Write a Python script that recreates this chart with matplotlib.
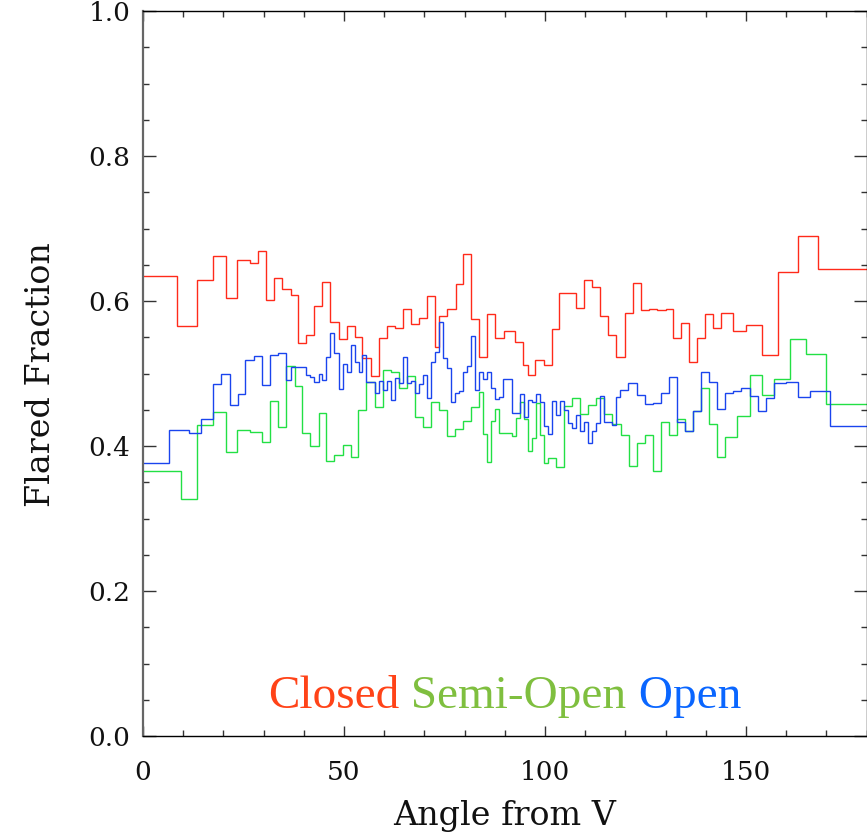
import matplotlib
matplotlib.use("Agg")
import matplotlib.pyplot as plt
from matplotlib.ticker import MultipleLocator

# bin edges (deg) and flared fraction for each field type
closed_edges = [0, 8.5, 13.5, 17.5, 20.6, 23.5, 26.6, 28.5, 30.5, 32.6, 34.7, 36.7, 38.6, 40.6,
                42.6, 44.6, 46.6, 48.7, 50.7, 52.7, 54.6, 56.6, 58.6, 60.6, 62.7, 64.7, 66.6,
                68.7, 70.7, 72.7, 73.7, 75.7, 77.8, 79.7, 81.6, 83.6, 85.6, 87.6, 89.7, 92.6,
                94.6, 95.7, 97.6, 99.7, 101.7, 103.6, 107.7, 109.6, 111.6, 113.6, 115.7, 117.7,
                119.8, 121.8, 123.9, 125.9, 127.9, 130.0, 131.9, 133.9, 135.9, 137.9, 139.9,
                141.9, 143.9, 146.9, 149.9, 153.9, 157.9, 163.0, 168.0, 180]
closed_vals = [0.635, 0.565, 0.629, 0.6625, 0.604, 0.656, 0.652, 0.669, 0.602, 0.632, 0.616,
               0.608, 0.542, 0.553, 0.593, 0.626, 0.571, 0.547, 0.566, 0.550, 0.521, 0.497,
               0.549, 0.566, 0.563, 0.5885, 0.568, 0.576, 0.607, 0.536, 0.580, 0.5885, 0.623,
               0.665, 0.575, 0.523, 0.582, 0.549, 0.559, 0.544, 0.512, 0.4975, 0.519, 0.512,
               0.561, 0.611, 0.590, 0.629, 0.619, 0.580, 0.553, 0.523, 0.584, 0.625, 0.587,
               0.589, 0.588, 0.589, 0.549, 0.570, 0.516, 0.549, 0.582, 0.563, 0.584, 0.558,
               0.567, 0.525, 0.640, 0.689, 0.644]

semi_edges = [0, 9.5, 13.5, 17.5, 20.6, 23.5, 26.6, 29.6, 31.6, 33.6, 35.7, 37.7, 39.6, 41.6,
              43.7, 45.6, 47.6, 49.7, 51.7, 53.6, 55.6, 57.7, 59.7, 61.7, 63.7, 65.7, 67.7,
              69.7, 71.7, 73.6, 75.6, 77.6, 79.6, 81.6, 83.6, 84.6, 85.6, 86.6, 87.6, 88.6,
              91.8, 92.8, 93.8, 94.8, 95.8, 96.8, 97.8, 98.8, 99.8, 100.8, 102.8, 104.8, 106.8,
              108.8, 110.8, 112.8, 114.8, 116.8, 118.8, 120.8, 122.8, 124.9, 126.8, 128.9,
              130.9, 132.9, 134.9, 136.9, 138.9, 140.9, 142.9, 144.9, 147.9, 150.9, 153.9,
              156.9, 161.0, 164.9, 170.0, 180]
semi_vals = [0.366, 0.3265, 0.4294, 0.447, 0.392, 0.422, 0.420, 0.4055, 0.462, 0.4258, 0.511,
             0.483, 0.4184, 0.3996, 0.446, 0.379, 0.388, 0.402, 0.385, 0.449, 0.4887, 0.4536,
             0.5048, 0.5025, 0.4795, 0.4965, 0.4395, 0.4267, 0.4612, 0.4497, 0.4133, 0.4234,
             0.4349, 0.4533, 0.474, 0.4166, 0.3775, 0.4345, 0.4506, 0.4175, 0.4142, 0.4382,
             0.4602, 0.4372, 0.3935, 0.4106, 0.46, 0.4145, 0.377, 0.3839, 0.3706, 0.455,
             0.4667, 0.4437, 0.456, 0.4658, 0.4437, 0.4303, 0.4147, 0.3724, 0.4046, 0.4147,
             0.3655, 0.4331, 0.4147, 0.4368, 0.4211, 0.4487, 0.4805, 0.430, 0.3848, 0.4129,
             0.4414, 0.498, 0.470, 0.4924, 0.547, 0.5264, 0.4575]

open_edges = [0, 6.55, 11.5, 14.5, 17.5, 19.5, 21.6, 23.6, 25.5, 27.6, 29.6, 31.6, 33.6, 35.7,
              36.7, 40.6, 41.6, 42.6, 43.7, 44.6, 45.6, 46.6, 47.6, 48.7, 49.7, 50.7, 51.7,
              52.7, 53.7, 54.6, 55.6, 57.7, 58.7, 59.7, 60.7, 61.7, 62.7, 63.7, 64.7, 65.7,
              66.7, 67.7, 68.7, 69.7, 70.7, 71.7, 72.7, 73.6, 74.6, 75.6, 76.6, 77.6, 78.6,
              79.6, 80.6, 81.6, 82.6, 83.6, 84.6, 85.6, 86.6, 87.6, 88.6, 89.6, 91.8, 93.8,
              94.8, 95.8, 96.8, 97.8, 98.8, 99.8, 100.8, 101.8, 102.8, 103.7, 104.7, 105.7,
              106.7, 107.7, 108.7, 109.7, 110.7, 111.7, 112.7, 113.7, 114.7, 116.7, 117.7,
              118.7, 120.7, 122.8, 124.9, 126.9, 128.8, 130.9, 132.9, 134.9, 136.9, 138.9,
              140.9, 142.9, 144.9, 146.9, 148.9, 150.9, 152.9, 154.9, 156.9, 160.0, 163.0,
              166.0, 171.0, 180]
open_vals = [0.376, 0.4216, 0.4175, 0.4368, 0.4855, 0.4993, 0.457, 0.4713, 0.5186, 0.524,
             0.4837, 0.525, 0.528, 0.491, 0.5094, 0.4975, 0.4956, 0.4887, 0.4993, 0.4906,
             0.5232, 0.5554, 0.5278, 0.4782, 0.5126, 0.5016, 0.5398, 0.5154, 0.5025, 0.5255,
             0.4887,
             0.4727, 0.4896, 0.4776, 0.4896, 0.4634, 0.4942, 0.4864, 0.5223, 0.4874, 0.4896,
             0.4736, 0.4855, 0.498, 0.4657, 0.5163, 0.5292, 0.5715, 0.5209, 0.507, 0.4602,
             0.4736, 0.4759, 0.5025, 0.5108, 0.5522, 0.4772, 0.5016, 0.4924, 0.5016, 0.4795,
             0.4644, 0.467,
             0.4919, 0.446, 0.4717, 0.4405, 0.4634, 0.4607, 0.4717, 0.461, 0.4276, 0.4166,
             0.4616, 0.4428, 0.4616, 0.4497, 0.4313, 0.4244, 0.4432, 0.421, 0.4326, 0.4045,
             0.421, 0.4321, 0.4689, 0.4335, 0.429, 0.468,
             0.4772, 0.4873, 0.4703, 0.4575, 0.4598, 0.4727, 0.4956, 0.4336, 0.4207, 0.4487,
             0.5025, 0.4878, 0.451, 0.4727, 0.4763, 0.4805, 0.469, 0.4483, 0.4657, 0.4864,
             0.4878, 0.4681, 0.4763, 0.4276]

labels = ["Closed", "Semi-Open", "Open"]
line_colors = ["#ff2a1a", "#22e044", "#1a44ee"]
text_colors = ["#ff4318", "#7fbf3f", "#0a66ff"]

fig = plt.figure(figsize=(8.67, 8.33), dpi=100)
ax = fig.add_axes([143 / 867, 97 / 833, 723.5 / 867, 725 / 833])

series = [(closed_edges, closed_vals), (semi_edges, semi_vals), (open_edges, open_vals)]
for (edges, vals), c in zip(series, line_colors):
    ax.stairs(vals, edges, baseline=None, color=c, lw=1.0)

ax.set_xlim(0, 180)
ax.set_ylim(0, 1.0)
ax.xaxis.set_major_locator(MultipleLocator(50))
ax.xaxis.set_minor_locator(MultipleLocator(10))
ax.yaxis.set_major_locator(MultipleLocator(0.2))
ax.yaxis.set_minor_locator(MultipleLocator(0.05))
ax.yaxis.set_major_formatter(plt.FormatStrFormatter("%.1f"))

ax.tick_params(which="both", direction="in", top=True, right=True, width=1.0, color="#333333")
ax.tick_params(axis="y", which="major", length=9.5, pad=9)
ax.tick_params(axis="y", which="minor", length=4.5)
ax.tick_params(axis="x", which="major", length=7.5, pad=17)
ax.tick_params(axis="x", which="minor", length=4)
for lab in ax.get_xticklabels() + ax.get_yticklabels():
    lab.set_fontfamily("DejaVu Serif")
    lab.set_fontsize(19)
    lab.set_color("#111111")

for side in ["top", "right", "bottom"]:
    ax.spines[side].set_linewidth(1.0)
ax.spines["left"].set_linewidth(1.6)
ax.spines["left"].set_color("#666666")

ax.set_xlabel("Angle from V", fontfamily="DejaVu Serif", fontsize=24, color="#111111",
              va="baseline")
ax.xaxis.set_label_coords(0.5, -0.1228)
ax.set_ylabel("Flared Fraction", fontfamily="DejaVu Serif", fontsize=24, color="#111111",
              va="baseline")
ax.yaxis.set_label_coords(-0.1285, 0.498)

# coloured legend words, chained left to right
prev = ax.text(0.173, 0.038, labels[0], transform=ax.transAxes, fontfamily="Liberation Serif",
               fontsize=34, color=text_colors[0], va="baseline", ha="left")
for lab, c in zip(labels[1:], text_colors[1:]):
    prev = ax.annotate(" " + lab, xy=(1, 0), xycoords=prev, va="bottom", ha="left",
                       fontfamily="Liberation Serif", fontsize=34, color=c)

fig.savefig("out.png", dpi=100)
